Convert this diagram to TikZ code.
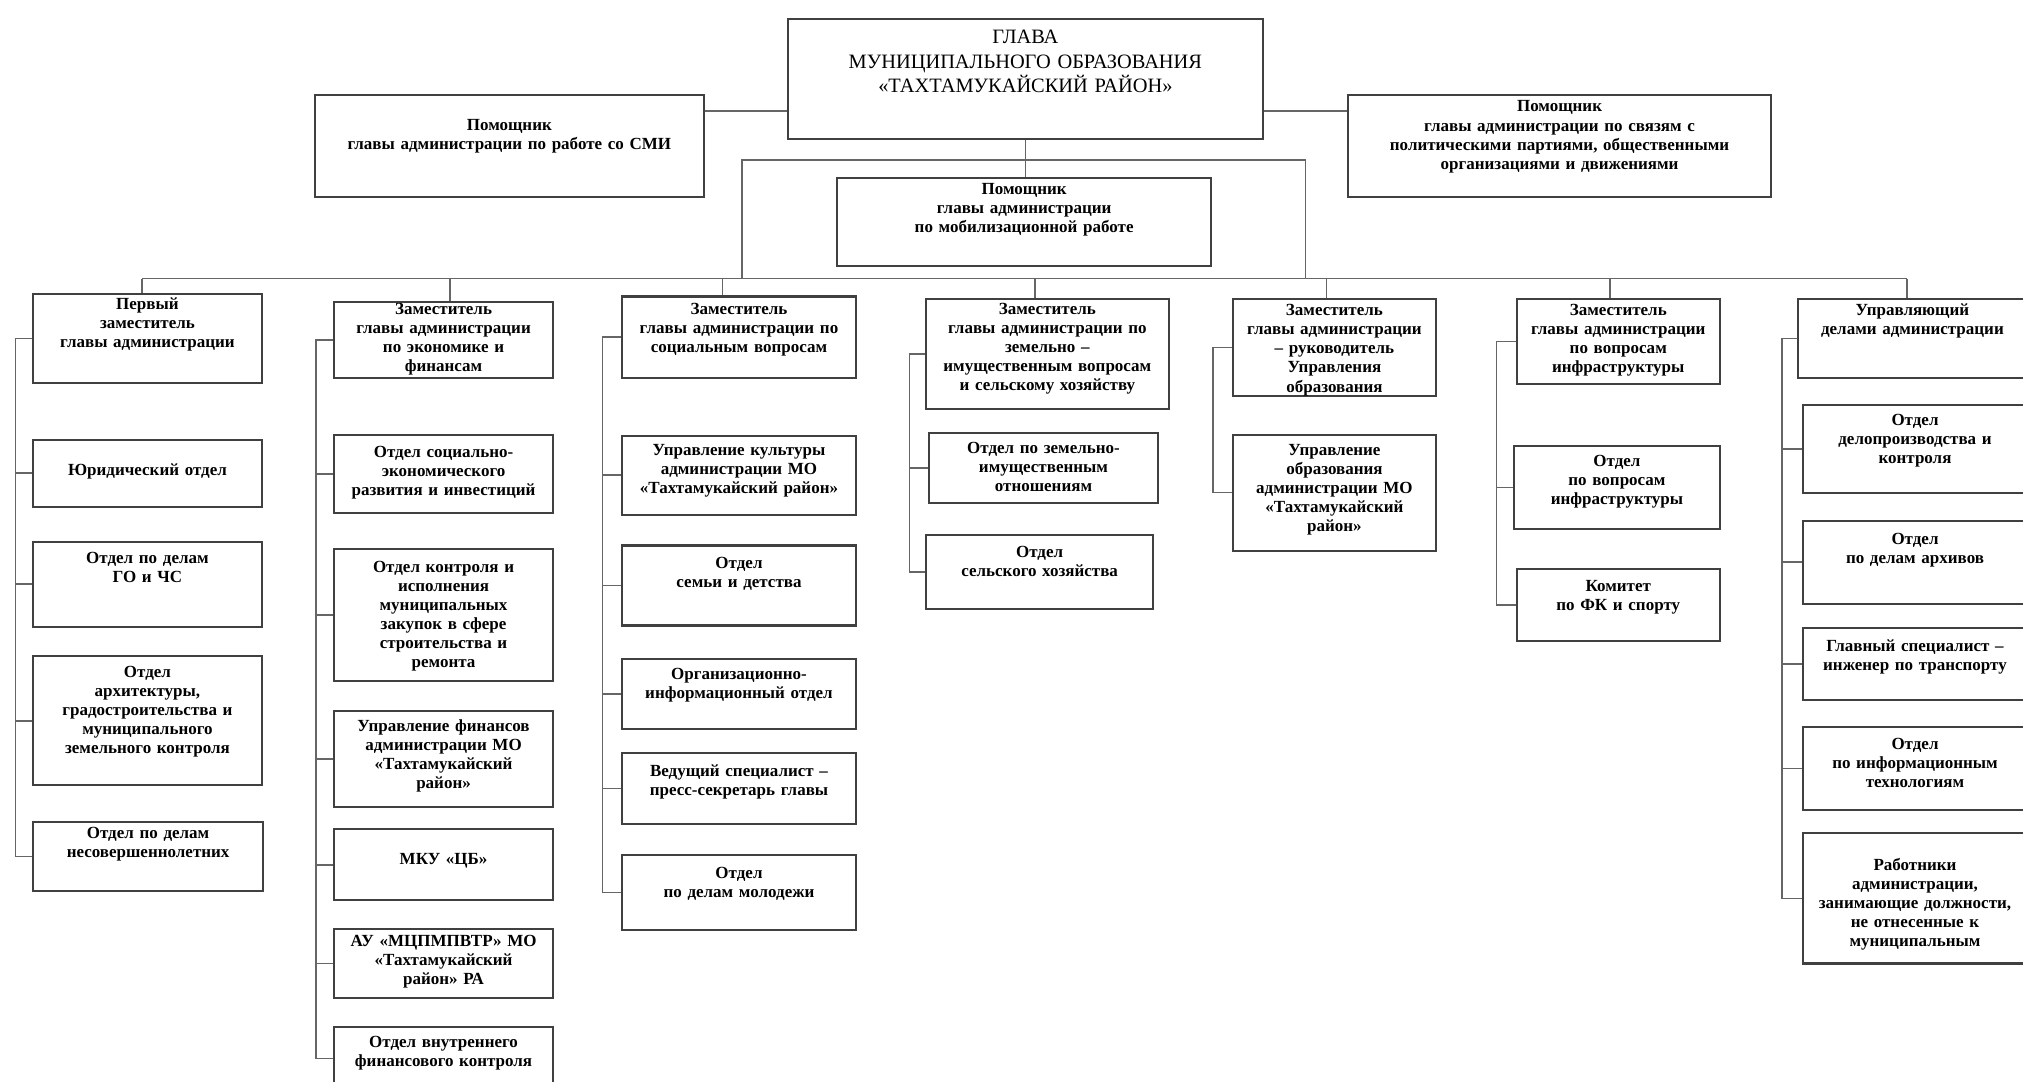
\documentclass[tikz,border=0pt]{standalone}
\usepackage{fontspec}
\setmainfont{Liberation Serif}
\usepackage{tikz}
\usetikzlibrary{positioning}

\begin{document}
\begin{tikzpicture}[
    unit/.style={draw=black!75, line width=0.9pt, fill=white, anchor=north west,
      align=center, inner xsep=0pt, inner ysep=0pt,
      font=\fontsize{7.5}{8.4}\selectfont\bfseries},
    chief/.style={unit, font=\fontsize{9}{10.8}\selectfont},
    link/.style={draw=black!60, line width=0.7pt}
  ]
    \useasboundingbox (0,0) rectangle (31.36,-16.76);
    % Head
    \node[chief, text width=7.36cm, text height=0.38cm, text depth=1.48cm] (glava) at (12.2,-0.28)
      {ГЛАВА\\МУНИЦИПАЛЬНОГО ОБРАЗОВАНИЯ\\«ТАХТАМУКАЙСКИЙ РАЙОН»};
    % Assistants
    \node[unit, text width=6.04cm, text height=0.54cm, text depth=1.04cm] (smi) at (4.86,-1.46)
      {Помощник\\главы администрации по работе со СМИ};
    \node[unit, text width=6.56cm, text height=0.26cm, text depth=1.32cm] (svyaz) at (20.88,-1.46)
      {Помощник\\главы администрации по связям с\\политическими партиями, общественными\\организациями и движениями};
    \node[unit, text width=5.8cm, text height=0.26cm, text depth=1.10cm] (mob) at (12.96,-2.74)
      {Помощник\\главы администрации\\по мобилизационной работе};

    % Column 1
    \node[unit, text width=3.54cm, text height=0.24cm, text depth=1.14cm] (c1h) at (0.5,-4.54)
      {Первый\\заместитель\\главы администрации};
    \node[unit, text width=3.54cm, text height=0.56cm, text depth=0.48cm] (c1a) at (0.5,-6.8)
      {Юридический отдел};
    \node[unit, text width=3.54cm, text height=0.34cm, text depth=0.98cm] (c1b) at (0.5,-8.38)
      {Отдел по делам\\ГО и ЧС};
    \node[unit, text width=3.54cm, text height=0.32cm, text depth=1.68cm] (c1c) at (0.5,-10.16)
      {Отдел\\архитектуры,\\градостроительства и\\муниципального\\земельного контроля};
    \node[unit, text width=3.56cm, text height=0.26cm, text depth=0.82cm] (c1d) at (0.5,-12.72)
      {Отдел по делам\\несовершеннолетних};

    % Column 2
    \node[unit, text width=3.4cm, text height=0.20cm, text depth=0.98cm] (c2h) at (5.16,-4.66)
      {Заместитель\\главы администрации\\по экономике и\\финансам};
    \node[unit, text width=3.4cm, text height=0.36cm, text depth=0.86cm] (c2a) at (5.16,-6.72)
      {Отдел социально-\\экономического\\развития и инвестиций};
    \node[unit, text width=3.4cm, text height=0.36cm, text depth=1.68cm] (c2b) at (5.16,-8.5)
      {Отдел контроля и\\исполнения\\муниципальных\\закупок в сфере\\строительства и\\ремонта};
    \node[unit, text width=3.4cm, text height=0.32cm, text depth=1.18cm] (c2c) at (5.16,-11.0)
      {Управление финансов\\администрации МО\\«Тахтамукайский\\район»};
    \node[unit, text width=3.4cm, text height=0.54cm, text depth=0.56cm] (c2d) at (5.16,-12.84)
      {МКУ «ЦБ»};
    \node[unit, text width=3.4cm, text height=0.28cm, text depth=0.80cm] (c2e) at (5.16,-14.38)
      {АУ «МЦПМПВТР» МО\\«Тахтамукайский\\район» РА};
    \node[unit, text width=3.4cm, text height=0.32cm, text depth=0.66cm] (c2f) at (5.16,-15.9)
      {Отдел внутреннего\\финансового контроля};

    % Column 3
    \node[unit, text width=3.64cm, text height=0.28cm, text depth=0.98cm] (c3h) at (9.62,-4.58)
      {Заместитель\\главы администрации по\\социальным вопросам};
    \node[unit, text width=3.64cm, text height=0.30cm, text depth=0.92cm] (c3a) at (9.62,-6.74)
      {Управление культуры\\администрации МО\\«Тахтамукайский район»};
    \node[unit, text width=3.64cm, text height=0.36cm, text depth=0.88cm] (c3b) at (9.62,-8.44)
      {Отдел\\семьи и детства};
    \node[unit, text width=3.64cm, text height=0.32cm, text depth=0.76cm] (c3c) at (9.62,-10.2)
      {Организационно-\\информационный отдел};
    \node[unit, text width=3.64cm, text height=0.36cm, text depth=0.74cm] (c3d) at (9.62,-11.66)
      {Ведущий специалист –\\пресс-секретарь главы};
    \node[unit, text width=3.64cm, text height=0.36cm, text depth=0.80cm] (c3e) at (9.62,-13.24)
      {Отдел\\по делам молодежи};

    % Column 4
    \node[unit, text width=3.76cm, text height=0.24cm, text depth=1.46cm] (c4h) at (14.34,-4.62)
      {Заместитель\\главы администрации по\\земельно –\\имущественным вопросам\\и сельскому хозяйству};
    \node[unit, text width=3.56cm, text height=0.32cm, text depth=0.76cm] (c4a) at (14.38,-6.7)
      {Отдел по земельно-\\имущественным\\отношениям};
    \node[unit, text width=3.52cm, text height=0.34cm, text depth=0.80cm] (c4b) at (14.34,-8.28)
      {Отдел\\сельского хозяйства};

    % Column 5
    \node[unit, text width=3.14cm, text height=0.26cm, text depth=1.24cm] (c5h) at (19.1,-4.62)
      {Заместитель\\главы администрации\\– руководитель\\Управления\\образования};
    \node[unit, text width=3.14cm, text height=0.32cm, text depth=1.48cm] (c5a) at (19.1,-6.72)
      {Управление\\образования\\администрации МО\\«Тахтамукайский\\район»};

    % Column 6
    \node[unit, text width=3.14cm, text height=0.26cm, text depth=1.06cm] (c6h) at (23.5,-4.62)
      {Заместитель\\главы администрации\\по вопросам\\инфраструктуры};
    \node[unit, text width=3.18cm, text height=0.32cm, text depth=0.96cm] (c6a) at (23.46,-6.9)
      {Отдел\\по вопросам\\инфраструктуры};
    \node[unit, text width=3.14cm, text height=0.36cm, text depth=0.76cm] (c6b) at (23.5,-8.8)
      {Комитет\\по ФК и спорту};

    % Column 7
    \node[unit, text width=3.54cm, text height=0.26cm, text depth=0.96cm] (c7h) at (27.86,-4.62)
      {Управляющий\\делами администрации};
    \node[unit, text width=3.46cm, text height=0.32cm, text depth=1.04cm] (c7a) at (27.94,-6.26)
      {Отдел\\делопроизводства и\\контроля};
    \node[unit, text width=3.46cm, text height=0.36cm, text depth=0.92cm] (c7b) at (27.94,-8.06)
      {Отдел\\по делам архивов};
    \node[unit, text width=3.46cm, text height=0.36cm, text depth=0.76cm] (c7c) at (27.94,-9.72)
      {Главный специалист –\\инженер по транспорту};
    \node[unit, text width=3.46cm, text height=0.34cm, text depth=0.94cm] (c7d) at (27.94,-11.26)
      {Отдел\\по информационным\\технологиям};
    \node[unit, text width=3.46cm, text height=0.58cm, text depth=1.44cm] (c7e) at (27.94,-12.9)
      {Работники\\администрации,\\занимающие должности,\\не отнесенные к\\муниципальным};

    % Top links
    \draw[link] ([yshift=-2.6mm]smi.north east) -- ([yshift=-2.6mm]smi.north east -| glava.west);
    \draw[link] ([yshift=-2.6mm]svyaz.north west) -- ([yshift=-2.6mm]svyaz.north west -| glava.east);
    \draw[link] (glava.south) -- (glava.south |- mob.north);
    \coordinate (ml) at (11.5,-2.48);
    \coordinate (mr) at (20.24,-2.48);
    \coordinate (bus) at (0,-4.32);
    \draw[link] (ml |- bus) -- (ml) -- (mr) -- (mr |- bus);
    \draw[link] (2.2,-4.32) -- (29.56,-4.32);
    \foreach \h/\x in {c1h/2.2, c2h/6.98, c3h/11.2, c4h/16.04, c5h/20.56, c6h/24.96, c7h/29.56}
      \draw[link] (\h.north -| \x,0) -- (\x,0 |- bus);

    % Column buses
    \foreach \c in {c1a,c1b,c1c,c1d}
      \draw[link] (c1h.west) -- ++(-0.26,0) |- (\c.west);
    \foreach \c in {c2a,c2b,c2c,c2d,c2e,c2f}
      \draw[link] (c2h.west) -- ++(-0.26,0) |- (\c.west);
    \foreach \c in {c3a,c3b,c3c,c3d,c3e}
      \draw[link] (c3h.west) -- ++(-0.28,0) |- (\c.west);
    \foreach \c in {c4a,c4b}
      \draw[link] (c4h.west) -- ++(-0.24,0) |- (\c.west);
    \draw[link] (c5h.west) -- ++(-0.3,0) |- (c5a.west);
    \foreach \c in {c6a,c6b}
      \draw[link] (c6h.west) -- ++(-0.3,0) |- (\c.west);
    \foreach \c in {c7a,c7b,c7c,c7d,c7e}
      \draw[link] (c7h.west) -- ++(-0.24,0) |- (\c.west);
\end{tikzpicture}
\end{document}
